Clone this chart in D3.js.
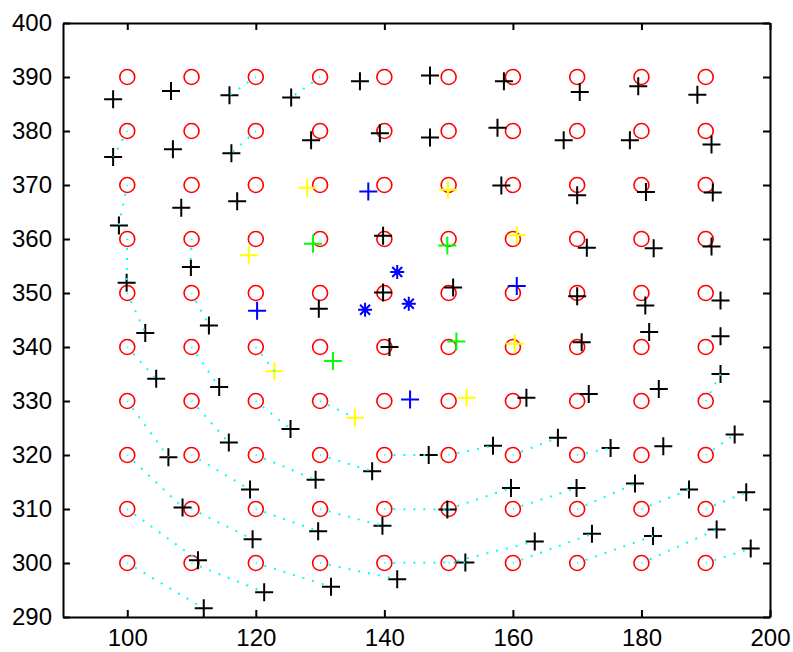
<!DOCTYPE html>
<html>
<head>
<meta charset="utf-8">
<script src="https://cdn.jsdelivr.net/npm/d3@7"></script>
<style>
  body { margin: 0; background: #fff; }
  .axis text { font-family: "Liberation Sans", Arial, sans-serif; font-size: 24px; fill: #000; }
  .axis path, .axis line { stroke: #000; stroke-width: 2; }
</style>
</head>
<body>
<svg width="793" height="652"></svg>
<script>
// grid of reference points (red circles)
var gridX = [100, 110, 120, 130, 140, 150, 160, 170, 180, 190];
var gridY = [390, 380, 370, 360, 350, 340, 330, 320, 310, 300];

// measured positions (plus markers), one row per gridY value, one column per gridX value
var plusX = [
  [97.8, 106.8, 115.9, 125.5, 136.2, 147.1, 158.6, 170.4, 179.5, 188.7],
  [97.8, 107.1, 116.2, 128.6, 139.3, 147.1, 157.6, 167.9, 178.2, 190.9],
  [98.7, 108.4, 117.1, 128.0, 137.5, 149.9, 158.2, 170.0, 180.7, 191.1],
  [99.9, 109.9, 118.9, 128.9, 139.8, 149.8, 160.6, 171.5, 181.9, 190.9],
  [102.8, 112.7, 120.2, 129.8, 139.8, 150.7, 160.6, 170.0, 180.6, 192.3],
  [104.5, 114.3, 122.9, 132.0, 140.8, 151.2, 160.3, 170.7, 181.2, 192.3],
  [106.4, 115.8, 125.4, 135.4, 144.0, 152.8, 162.1, 171.8, 182.7, 192.3],
  [108.6, 119.1, 129.3, 138.1, 146.9, 156.9, 167.0, 175.2, 183.4, 194.5],
  [111.0, 119.5, 129.7, 139.7, 149.8, 159.7, 169.9, 179.0, 187.4, 196.3],
  [111.9, 121.3, 131.7, 142.0, 152.6, 163.4, 172.3, 181.8, 191.7, 197.0]
];
var plusY = [
  [385.9, 387.4, 386.6, 386.2, 389.2, 390.3, 389.2, 387.2, 388.3, 386.7],
  [375.2, 376.6, 375.9, 378.3, 379.6, 378.8, 380.6, 378.3, 378.3, 377.5],
  [362.5, 365.8, 367.0, 369.5, 368.8, 369.1, 369.9, 368.1, 368.7, 368.6],
  [351.9, 354.8, 357.0, 359.1, 360.6, 358.8, 360.7, 358.4, 358.3, 358.6],
  [342.6, 344.0, 346.7, 347.1, 350.1, 351.0, 351.3, 349.4, 347.7, 348.6],
  [334.1, 332.6, 335.5, 337.4, 340.0, 341.0, 340.6, 340.9, 342.8, 342.0],
  [319.6, 322.3, 324.8, 326.9, 330.3, 330.6, 330.6, 331.3, 332.2, 335.0],
  [310.3, 313.6, 315.4, 317.0, 320.0, 321.7, 323.2, 321.3, 321.6, 323.8],
  [300.5, 304.4, 305.9, 306.9, 309.9, 313.9, 313.9, 314.7, 313.6, 313.1],
  [291.6, 294.6, 295.6, 297.0, 300.1, 304.0, 305.4, 305.0, 306.2, 302.7]
];
// marker colour per point: k black, y yellow, g green, b blue
var plusColor = [
  "kkkkkkkkkk",
  "kkkkkkkkkk",
  "kkkybykkkk",
  "kkygkgykkk",
  "kkbkkkbkkk",
  "kkygkgykkk",
  "kkkybykkkk",
  "kkkkkkkkkk",
  "kkkkkkkkkk",
  "kkkkkkkkkk"
];
// blue asterisks
var starX = [142.0, 137.0, 143.8];
var starY = [353.9, 346.9, 348.0];

var colors = { k: "#000000", y: "#ffff00", g: "#00ff00", b: "#0000ff" };

var svg = d3.select("svg"),
    plotLeft = 63, plotRight = 770, plotTop = 23, plotBottom = 617;

var x = d3.scaleLinear().domain([90, 200]).range([plotLeft, plotRight]);
var y = d3.scaleLinear().domain([290, 400]).range([plotBottom, plotTop]);

// flatten the table into point records
var points = [];
gridY.forEach(function(gy, i) {
  gridX.forEach(function(gx, j) {
    points.push({ gx: gx, gy: gy, px: plusX[i][j], py: plusY[i][j], c: plusColor[i][j] });
  });
});

// axes, ticks pointing inward on all four sides
var xTicks = [100, 120, 140, 160, 180, 200];
var yTicks = d3.range(290, 401, 10);

svg.append("g").attr("class", "axis")
    .attr("transform", "translate(0," + plotBottom + ")")
    .call(d3.axisBottom(x).tickValues(xTicks).tickSizeInner(-7).tickSizeOuter(0).tickPadding(12));
svg.append("g").attr("class", "axis")
    .attr("transform", "translate(" + plotLeft + ",0)")
    .call(d3.axisLeft(y).tickValues(yTicks).tickSizeInner(-7).tickSizeOuter(0).tickPadding(11));
svg.append("g").attr("class", "axis")
    .attr("transform", "translate(0," + plotTop + ")")
    .call(d3.axisTop(x).tickValues(xTicks).tickSizeInner(-7).tickSizeOuter(0).tickFormat(""));
svg.append("g").attr("class", "axis")
    .attr("transform", "translate(" + plotRight + ",0)")
    .call(d3.axisRight(y).tickValues(yTicks).tickSizeInner(-7).tickSizeOuter(0).tickFormat(""));

// red circles at grid
svg.append("g").selectAll("circle")
    .data(points)
    .enter().append("circle")
    .attr("cx", function(d) { return x(d.gx); })
    .attr("cy", function(d) { return y(d.gy); })
    .attr("r", 7.5)
    .attr("fill", "none")
    .attr("stroke", "#ff0000")
    .attr("stroke-width", 1.6);

// plus markers
var arm = 9;
svg.append("g").selectAll("path")
    .data(points)
    .enter().append("path")
    .attr("d", function(d) {
      var cx = x(d.px), cy = y(d.py);
      return "M" + (cx - arm) + "," + cy + "H" + (cx + arm) + "M" + cx + "," + (cy - arm) + "V" + (cy + arm);
    })
    .attr("stroke", function(d) { return colors[d.c]; })
    .attr("stroke-width", 2)
    .attr("fill", "none");

// asterisks
svg.append("g").selectAll("path")
    .data(d3.range(starX.length))
    .enter().append("path")
    .attr("d", function(i) {
      var cx = x(starX[i]), cy = y(starY[i]), a = 7, b = 5;
      return "M" + (cx - a) + "," + cy + "H" + (cx + a) +
             "M" + cx + "," + (cy - a) + "V" + (cy + a) +
             "M" + (cx - b) + "," + (cy - b) + "L" + (cx + b) + "," + (cy + b) +
             "M" + (cx - b) + "," + (cy + b) + "L" + (cx + b) + "," + (cy - b);
    })
    .attr("stroke", "#0000ff")
    .attr("stroke-width", 2)
    .attr("fill", "none");

// cyan dotted displacement lines for the larger shifts
svg.append("g").selectAll("line")
    .data(points.filter(function(d) { return Math.hypot(d.px - d.gx, d.py - d.gy) > 5; }))
    .enter().append("line")
    .attr("x1", function(d) { return x(d.gx); })
    .attr("y1", function(d) { return y(d.gy); })
    .attr("x2", function(d) { return x(d.px); })
    .attr("y2", function(d) { return y(d.py); })
    .attr("stroke", "#00ffff")
    .attr("stroke-width", 2)
    .attr("stroke-dasharray", "2 8")
    .attr("stroke-dashoffset", 1);
</script>
</body>
</html>
